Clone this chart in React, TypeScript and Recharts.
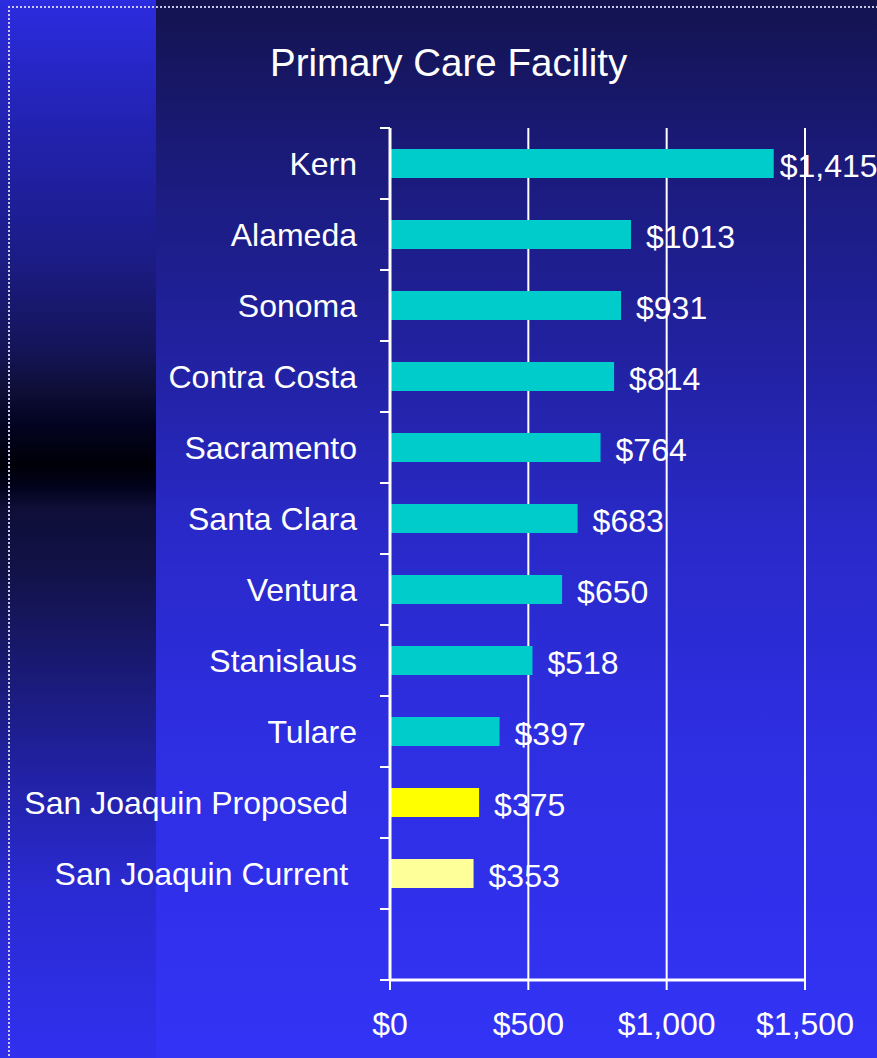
import React from 'react';
import { BarChart, Bar, XAxis, YAxis, CartesianGrid, Cell, LabelList } from 'recharts';

const counties = [
  'Kern',
  'Alameda',
  'Sonoma',
  'Contra Costa',
  'Sacramento',
  'Santa Clara',
  'Ventura',
  'Stanislaus',
  'Tulare',
  'San Joaquin Proposed ',
  'San Joaquin Current ',
];
// bar lengths as drawn in the picture
const barValues = [1387, 871, 835, 810, 761, 678, 622, 515, 396, 322, 302];
// the printed value labels
const valueLabels = ['$1,415', '$1013', '$931', '$814', '$764', '$683', '$650', '$518', '$397', '$375', '$353'];
const barColors = [
  '#00cccc', '#00cccc', '#00cccc', '#00cccc', '#00cccc', '#00cccc',
  '#00cccc', '#00cccc', '#00cccc', '#ffff00', '#ffff99',
];
const xTicks = [0, 500, 1000, 1500];
const xTickLabels = ['$0', '$500', '$1,000', '$1,500'];

const FONT = '"Liberation Sans", Arial, sans-serif';

// one empty category row at the bottom, as in the original
const chartData = [
  ...counties.map((name, i) => ({ name, value: barValues[i], label: valueLabels[i] })),
  { name: '', value: null, label: '' },
];

const CategoryTick = (props: any) => {
  const { x, y, payload, index } = props;
  const half = payload?.offset ?? 35.5;
  const isLast = index === chartData.length - 1;
  return (
    <g>
      <line x1={x} x2={x + 10} y1={y - half} y2={y - half} stroke="#ffffff" strokeWidth={2} />
      {isLast && (
        <line x1={x} x2={x + 10} y1={y + half} y2={y + half} stroke="#ffffff" strokeWidth={2} />
      )}
      {payload.value !== '' && (
        <text
          x={x - 23}
          y={y}
          textAnchor="end"
          dominantBaseline="central"
          fill="#ffffff"
          fontSize={32}
          fontFamily={FONT}
          style={{ whiteSpace: 'pre' }}
        >
          {payload.value}
        </text>
      )}
    </g>
  );
};

const ValueLabel = (props: any) => {
  const { x, y, width, height, value, index } = props;
  if (!value) return null;
  // the top label sits tight against its bar so it fits the frame
  const gap = index === 0 ? 6 : 15;
  return (
    <text
      x={x + width + gap}
      y={y + height / 2 + 2}
      dominantBaseline="central"
      fill="#ffffff"
      fontSize={32}
      fontFamily={FONT}
    >
      {value}
    </text>
  );
};

export default function App() {
  return (
    <div
      style={{
        position: 'absolute',
        top: 0,
        left: 0,
        width: 877,
        height: 1058,
        overflow: 'hidden',
        background:
          'linear-gradient(to bottom, #13134f 0%, #1a1a78 14%, #2222a4 35%, #2929c8 50%, #2e2ee2 70%, #3333f6 100%)',
        fontFamily: FONT,
      }}
    >
      <div
        style={{
          position: 'absolute',
          top: 0,
          left: 0,
          width: 156,
          height: 1058,
          background:
            'linear-gradient(to bottom, #2c2ce0 0%, #2222b0 12%, #1c1c88 24%, #141458 33%, #0e0e36 37%, #030322 40%, #000008 44%, #02021c 46%, #0e0e38 48%, #121248 54%, #1a1a78 64%, #2222a8 74%, #2a2ad2 84%, #3030ee 100%)',
        }}
      />
      <div
        style={{
          position: 'absolute',
          top: 6,
          left: 8,
          width: 900,
          height: 1100,
          borderTop: '2px dotted #c8c8e8',
          borderLeft: '2px dotted #c8c8e8',
        }}
      />
      <div
        style={{
          position: 'absolute',
          top: 44,
          left: 270,
          fontSize: 38.5,
          lineHeight: '38px',
          color: '#ffffff',
          whiteSpace: 'nowrap',
        }}
      >
        Primary Care Facility
      </div>
      <div style={{ position: 'absolute', top: 0, left: 0 }}>
        <BarChart
          width={877}
          height={1058}
          data={chartData}
          layout="vertical"
          margin={{ top: 128, right: 72, bottom: 0, left: 0 }}
          barCategoryGap={0}
        >
          <CartesianGrid horizontal={false} vertical stroke="#ffffff" strokeWidth={2} />
          <XAxis
            type="number"
            domain={[0, 1500]}
            ticks={xTicks}
            tickFormatter={(v: number) => xTickLabels[xTicks.indexOf(v)]}
            height={78}
            tickSize={10}
            tickMargin={22}
            axisLine={{ stroke: '#ffffff', strokeWidth: 3 }}
            tickLine={{ stroke: '#ffffff', strokeWidth: 2 }}
            tick={{ fill: '#ffffff', fontSize: 32, fontFamily: FONT }}
            interval={0}
          />
          <YAxis
            type="category"
            dataKey="name"
            width={390}
            tickSize={10}
            tickMargin={0}
            tickLine={false}
            axisLine={{ stroke: '#ffffff', strokeWidth: 3 }}
            tick={<CategoryTick />}
            interval={0}
          />
          <Bar dataKey="value" barSize={29} isAnimationActive={false}>
            {chartData.map((d, i) => (
              <Cell key={i} fill={barColors[i] ?? '#00cccc'} />
            ))}
            <LabelList dataKey="label" content={<ValueLabel />} />
          </Bar>
        </BarChart>
      </div>
    </div>
  );
}
